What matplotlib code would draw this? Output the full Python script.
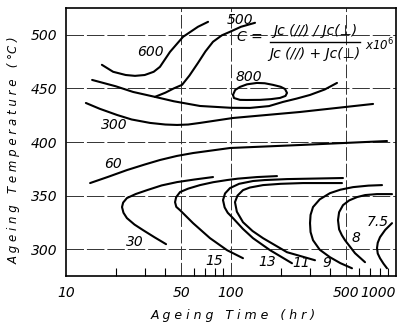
import matplotlib
matplotlib.use('Agg')
import matplotlib.pyplot as plt
from matplotlib.lines import Line2D
from matplotlib.ticker import FixedLocator, NullFormatter, FixedFormatter

# ---------------- data ----------------
x_ticks = [10, 50, 100, 500, 1000]
x_ticklabels = ['10', '50', '100', '500', '1000']
x_minor = [20, 30, 40, 60, 70, 80, 90, 200, 300, 400, 600, 700, 800, 900]
y_ticks = [300, 350, 400, 450, 500]
grid_x = [50, 100, 500]

c600_x = [16.5, 19.3, 23.0, 26.2, 30.0, 34.0, 37.1, 42.7, 51.2, 63.1, 72.6]
c600_y = [472.0, 465.5, 462.5, 461.7, 462.5, 465.5, 470.1, 484.1, 498.1, 507.5, 512.1]

c500_x = [34.6, 40.0, 45.0, 50.5, 56.0, 63.1, 70.0, 77.8, 88.0, 98.6, 115.0, 139.8]
c500_y = [442.1, 446.0, 450.0, 453.3, 462.0, 473.8, 484.5, 493.5, 499.5, 502.8, 507.5, 511.2]

cU_x = [14.4, 20.0, 25.5, 34.6, 45.0, 64.9, 100.0, 130.4, 170.0, 206.7, 250.0, 301.2, 370.0, 438.9]
cU_y = [457.9, 452.0, 446.7, 442.1, 438.0, 433.6, 431.9, 431.8, 433.5, 437.4, 440.5, 443.9, 449.0, 455.1]

c800_x = [102.8, 106.0, 113.4, 125.0, 143.7, 160.0, 179.7, 200.0, 212.3, 218.5, 214.0, 198.2, 175.0, 149.9, 125.0, 113.4, 104.3, 102.8]
c800_y = [443.9, 448.5, 451.4, 453.8, 455.1, 454.8, 453.3, 451.5, 449.5, 445.8, 443.0, 441.1, 440.0, 439.3, 439.2, 439.3, 441.0, 443.9]

c300_x = [13.2, 16.0, 20.4, 25.0, 32.3, 40.0, 47.1, 55.0, 64.9, 102.8, 262.0, 726.0]
c300_y = [436.4, 431.0, 425.2, 421.0, 417.8, 416.3, 415.9, 416.3, 417.8, 422.4, 428.0, 435.5]

c60_x = [14.0, 18.0, 23.4, 30.0, 37.1, 47.0, 58.9, 98.6, 262.0, 882.0]
c60_y = [361.7, 367.5, 373.8, 379.0, 383.2, 387.0, 389.7, 394.4, 397.2, 400.9]

c30_x = [77.8, 60.0, 47.1, 38.0, 31.0, 26.5, 23.4, 22.2, 21.85, 22.3, 23.4, 26.0, 29.3, 34.5, 40.4]
c30_y = [367.3, 365.0, 362.6, 359.5, 355.1, 351.5, 347.7, 343.5, 339.3, 334.0, 329.0, 323.0, 317.8, 311.0, 304.7]

c15_x = [190.0, 143.7, 110.0, 94.6, 78.0, 64.9, 55.0, 49.1, 46.5, 45.8, 46.6, 49.1, 58.9, 74.6, 94.6, 118.2]
c15_y = [368.2, 367.3, 365.8, 364.5, 362.5, 359.8, 356.5, 353.3, 348.5, 343.9, 339.5, 336.4, 324.3, 310.3, 299.1, 291.6]

c13_x = [477.0, 350.0, 218.5, 160.0, 135.9, 112.0, 98.6, 92.0, 89.45, 91.5, 95.5, 102.8, 118.0, 135.9, 172.4, 234.2]
c13_y = [366.4, 366.0, 365.4, 364.5, 363.6, 361.0, 357.0, 352.0, 345.8, 339.0, 334.0, 329.0, 319.0, 310.3, 299.1, 286.9]

c11_x = [470.6, 380.0, 273.2, 200.0, 156.3, 130.0, 118.2, 109.5, 105.7, 108.5, 118.2, 135.0, 156.3, 218.5, 322.9]
c11_y = [361.7, 361.7, 361.7, 361.0, 359.8, 357.5, 355.1, 350.0, 343.9, 335.0, 325.2, 317.0, 310.3, 297.2, 289.7]

c9_x = [822.7, 680.0, 548.8, 460.0, 398.1, 345.0, 314.1, 303.5, 301.2, 303.5, 314.1, 345.0, 398.1, 460.0, 541.1]
c9_y = [359.8, 359.3, 357.9, 355.5, 352.3, 346.5, 339.3, 332.0, 324.3, 316.0, 308.4, 299.5, 292.5, 287.0, 282.2]

c8_x = [945.8, 767.1, 650.0, 580.2, 520.0, 477.3, 452.0, 445.1, 452.0, 470.0, 490.8, 564.3, 648.9]
c8_y = [351.4, 351.4, 350.5, 348.6, 345.5, 341.1, 334.5, 327.1, 318.5, 313.0, 308.4, 296.3, 287.9]

c75_x = [945.8, 860.0, 799.9, 775.0, 767.1, 775.0, 799.9, 840.0, 882.0]
c75_y = [324.3, 318.0, 311.2, 306.0, 301.1, 296.0, 291.6, 286.5, 282.2]

curves = [(c600_x, c600_y), (c500_x, c500_y), (cU_x, cU_y), (c800_x, c800_y),
          (c300_x, c300_y), (c60_x, c60_y), (c30_x, c30_y), (c15_x, c15_y),
          (c13_x, c13_y), (c11_x, c11_y), (c9_x, c9_y), (c8_x, c8_y), (c75_x, c75_y)]

labels = ['600', '500', '800', '300', '60', '30', '15', '13', '11', '9', '8', '7.5']
label_x = [32.3, 113.4, 128.0, 19.5, 19.3, 26.2, 79.6, 165.3, 266.0, 380.0, 572.0, 780.0]
label_y = [484.0, 514.0, 460.7, 415.9, 379.4, 306.5, 288.8, 287.9, 286.9, 286.9, 310.3, 325.2]

formula_lhs = 'C ='
formula_num = 'Jc (//) / Jc(⊥)'
formula_den = 'Jc (//) + Jc(⊥)'
formula_rhs = r'x10$^{6}$'

# ---------------- figure ----------------
fig = plt.figure(figsize=(4.08, 3.25), dpi=100)
ax = fig.add_axes([66 / 408, 1 - 276 / 325, 330 / 408, 268 / 325])
ax.set_xscale('log')
ax.set_xlim(10, 1000)
ax.set_ylim(275, 525)

for gx in grid_x:
    ax.axvline(gx, color='#333333', lw=0.7, ls=(0, (14, 3)), zorder=1)
for gy in y_ticks:
    ax.axhline(gy, color='#333333', lw=0.7, ls=(0, (18, 3)), zorder=1)

for cx, cy in curves:
    ax.plot(cx, cy, color='black', lw=1.5, solid_capstyle='round', zorder=3)

for t, lx, ly in zip(labels, label_x, label_y):
    ax.text(lx, ly, t, ha='center', va='center', fontsize=10, fontstyle='italic', zorder=4)

ax.xaxis.set_major_locator(FixedLocator(x_ticks))
ax.xaxis.set_major_formatter(FixedFormatter(x_ticklabels))
ax.xaxis.set_minor_locator(FixedLocator(x_minor))
ax.xaxis.set_minor_formatter(NullFormatter())
ax.yaxis.set_major_locator(FixedLocator(y_ticks))
ax.yaxis.set_minor_locator(FixedLocator([]))
ax.tick_params(axis='x', which='major', length=0, pad=7, labelsize=10)
ax.tick_params(axis='x', which='minor', direction='in', length=6, width=0.8)
ax.tick_params(axis='y', which='major', length=0, pad=6, labelsize=10)
for lab in ax.get_xticklabels() + ax.get_yticklabels():
    lab.set_fontstyle('italic')
xl = ax.get_xticklabels()
xl[-1].set_horizontalalignment('right')
for sp in ax.spines.values():
    sp.set_linewidth(1.2)

# formula (figure pixel positions converted to fractions)
W, H = 408.0, 325.0
fig.text(250 / W, 1 - 37 / H, formula_lhs, ha='center', va='center', fontsize=10, fontstyle='italic')
fig.text(315 / W, 1 - 31 / H, formula_num, ha='center', va='center', fontsize=10, fontstyle='italic')
fig.text(315 / W, 1 - 54 / H, formula_den, ha='center', va='center', fontsize=10, fontstyle='italic')
fig.add_artist(Line2D([270 / W, 360 / W], [1 - 42 / H, 1 - 42 / H], color='black', lw=1.0,
                      transform=fig.transFigure))
fig.text(365 / W, 1 - 45 / H, formula_rhs, ha='left', va='center', fontsize=8.5, fontstyle='italic')

fig.text(233 / W, 1 - 315 / H, 'A g e i n g   T i m e   ( h r )',
         ha='center', va='center', fontsize=9, fontstyle='italic')
fig.text(14 / W, 1 - 150 / H, 'A g e i n g   T e m p e r a t u r e   ( °C )',
         ha='center', va='center', fontsize=8.5, fontstyle='italic', rotation=90)

fig.savefig('out.png', dpi=100)
